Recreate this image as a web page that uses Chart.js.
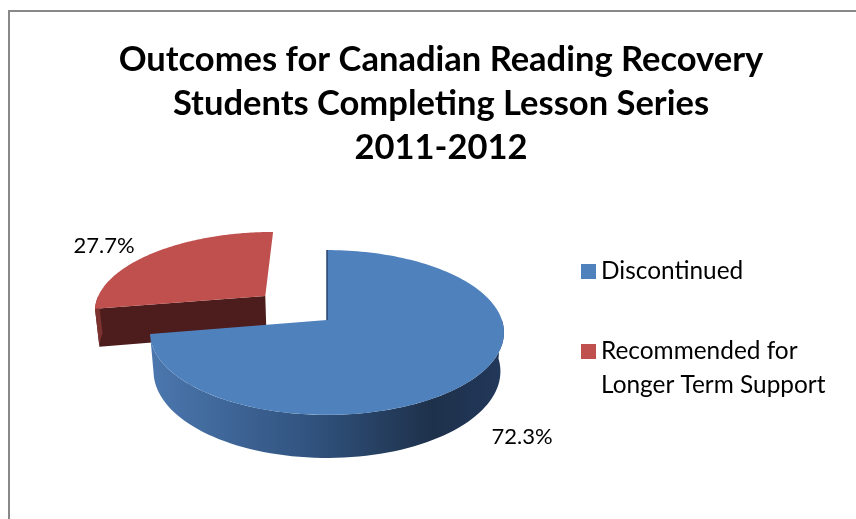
<!DOCTYPE html>
<html>
<head>
<meta charset="utf-8">
<script src="https://cdn.jsdelivr.net/npm/chart.js@4.4.1/dist/chart.umd.min.js"></script>
<style>
  html, body { margin: 0; padding: 0; background: #fff; }
</style>
</head>
<body>
<canvas id="chart" width="856" height="519"></canvas>
<script>
// chart data
const titleLines = ['Outcomes for Canadian Reading Recovery', 'Students Completing Lesson Series', '2011-2012'];
const categories = ['Discontinued', 'Recommended for Longer Term Support'];
const legendLines = [['Discontinued'], ['Recommended for', 'Longer Term Support']];
const percents = [72.3, 27.7];
const sliceColors = ['#4f81bd', '#c0504d'];

// look of the 3d pie (Excel style)
const FONT = 'Lato, "Open Sans", sans-serif';
const view = { cx: 327, cy: 320, f: 1025, D: 5.86, elev: 27.4 * Math.PI / 180, thick: 0.253 };
const sideStops = [
  ['#4b77ae', '#31537f', '#1e314b', '#22385a'],
  ['#7c322f', '#5c2321', '#461817', '#4a1a1a']
];
const cutColors = ['#27436a', '#4d1c1c'];
const labelPos = [[522, 444], [104, 253]];
const legendBox = { x: 581, size: 15, textX: 601, rows: [279, 359], lineGap: 34 };

function fitSize(text, weight, width) {
  const c = document.createElement('canvas').getContext('2d');
  c.font = weight + ' 100px ' + FONT;
  return 100 * width / c.measureText(text).width;
}
const titleSize = fitSize(titleLines[0], 'bold', 645);
const legendSize = fitSize(legendLines[0][0], 'normal', 142);
const labelSize = fitSize('72.3%', 'normal', 61);

function project(x, y, z) {
  const s = Math.sin(view.elev), c = Math.cos(view.elev);
  const d = view.D - (y * s + z * c);
  const v = y * c - z * s;
  return [view.cx + view.f * x / d, view.cy - view.f * v / d];
}

function frontRanges(a0, a1) {
  const out = [];
  for (let k = -1; k <= 1; k++) {
    const lo = Math.max(a0, 2 * Math.PI * k), hi = Math.min(a1, Math.PI + 2 * Math.PI * k);
    if (hi > lo) out.push([lo, hi]);
  }
  return out;
}

const framePlugin = {
  id: 'frame',
  beforeDraw(chart) {
    const ctx = chart.ctx;
    ctx.save();
    ctx.strokeStyle = '#888888';
    ctx.lineWidth = 2;
    ctx.strokeRect(9, 11, 900, 600);
    ctx.restore();
  }
};

const pie3d = {
  id: 'pie3d',
  beforeDatasetsDraw(chart) {
    const ctx = chart.ctx;
    const arcs = chart.getDatasetMeta(0).data.map((el, i) => {
      const mid = (el.startAngle + el.endAngle) / 2;
      const off = (el.options.offset || 0) / el.outerRadius;
      return { i, a0: el.startAngle, a1: el.endAngle, ox: Math.cos(mid) * off, oz: Math.sin(mid) * off };
    });
    arcs.sort((p, q) => p.oz - q.oz);
    const t = view.thick;
    ctx.save();
    arcs.forEach(s => {
      const rim = (a, y) => project(s.ox + Math.cos(a), y, s.oz + Math.sin(a));
      const apex = y => project(s.ox, y, s.oz);
      const edges = [[s.a0, s.a0 - Math.PI / 2], [s.a1, s.a1 + Math.PI / 2]];
      // cut faces facing the viewer
      edges.forEach(([a, n]) => {
        if (Math.sin(n) <= 0.02) return;
        const p = [apex(0), rim(a, 0), rim(a, -t), apex(-t)];
        ctx.beginPath();
        p.forEach((q, k) => k ? ctx.lineTo(q[0], q[1]) : ctx.moveTo(q[0], q[1]));
        ctx.closePath();
        ctx.fillStyle = cutColors[s.i];
        ctx.fill();
      });
      // outer side
      const gl = project(s.ox - 1, 0, s.oz)[0], gr = project(s.ox + 1, 0, s.oz)[0];
      const grad = ctx.createLinearGradient(gl, 0, gr, 0);
      const st = sideStops[s.i];
      grad.addColorStop(0, st[0]);
      grad.addColorStop(0.45, st[1]);
      grad.addColorStop(0.8, st[2]);
      grad.addColorStop(1, st[3]);
      frontRanges(s.a0, s.a1).forEach(([lo, hi]) => {
        const n = 80;
        ctx.beginPath();
        for (let k = 0; k <= n; k++) {
          const q = rim(lo + (hi - lo) * k / n, 0);
          k ? ctx.lineTo(q[0], q[1]) : ctx.moveTo(q[0], q[1]);
        }
        for (let k = n; k >= 0; k--) {
          const q = rim(lo + (hi - lo) * k / n, -t);
          ctx.lineTo(q[0], q[1]);
        }
        ctx.closePath();
        ctx.fillStyle = grad;
        ctx.fill();
      });
      // top face
      const n = 160;
      ctx.beginPath();
      const c0 = apex(0);
      ctx.moveTo(c0[0], c0[1]);
      for (let k = 0; k <= n; k++) {
        const q = rim(s.a0 + (s.a1 - s.a0) * k / n, 0);
        ctx.lineTo(q[0], q[1]);
      }
      ctx.closePath();
      ctx.fillStyle = sliceColors[s.i];
      ctx.fill();
      // left-facing cut face seen edge-on: thin dark line
      edges.forEach(([a, n]) => {
        if (Math.abs(Math.sin(n)) > 0.02 || Math.cos(n) > 0) return;
        const p = rim(a, 0);
        ctx.beginPath();
        ctx.moveTo(c0[0], c0[1]);
        ctx.lineTo(p[0], p[1]);
        ctx.strokeStyle = cutColors[s.i];
        ctx.lineWidth = 1.5;
        ctx.stroke();
      });
    });
    ctx.restore();
    return false;
  },
  afterDraw(chart) {
    const ctx = chart.ctx;
    ctx.save();
    ctx.fillStyle = '#000';
    ctx.font = labelSize.toFixed(1) + 'px ' + FONT;
    ctx.textAlign = 'center';
    ctx.textBaseline = 'alphabetic';
    percents.forEach((v, i) => ctx.fillText(v.toFixed(1) + '%', labelPos[i][0], labelPos[i][1]));
    // legend
    ctx.textAlign = 'left';
    ctx.font = legendSize.toFixed(1) + 'px ' + FONT;
    legendLines.forEach((lines, i) => {
      const base = legendBox.rows[i];
      ctx.fillStyle = sliceColors[i];
      ctx.fillRect(legendBox.x, base - legendBox.size, legendBox.size, legendBox.size);
      ctx.fillStyle = '#000';
      lines.forEach((ln, k) => ctx.fillText(ln, legendBox.textX, base + k * legendBox.lineGap));
    });
    ctx.restore();
  }
};

new Chart(document.getElementById('chart'), {
  type: 'pie',
  data: {
    labels: categories,
    datasets: [{
      data: percents,
      backgroundColor: sliceColors,
      borderWidth: 0,
      offset: [0, 58]
    }]
  },
  options: {
    responsive: false,
    animation: false,
    radius: 120,
    layout: { padding: { left: 26, right: 0, top: 0, bottom: 0 } },
    plugins: {
      legend: { display: false },
      tooltip: { enabled: false },
      title: {
        display: true,
        text: titleLines,
        color: '#000',
        font: { family: FONT, weight: 'bold', size: titleSize, lineHeight: 44 / titleSize },
        padding: { top: 38, bottom: 10 }
      }
    }
  },
  plugins: [framePlugin, pie3d]
});
</script>
</body>
</html>
